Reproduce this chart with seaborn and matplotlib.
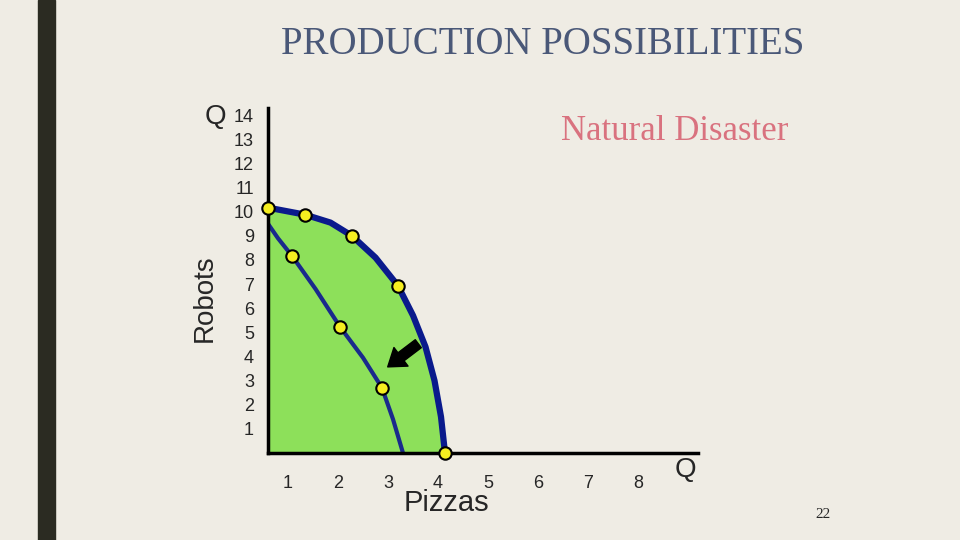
import matplotlib
matplotlib.use("Agg")
import matplotlib.pyplot as plt
import seaborn as sns
import pandas as pd

outer_x = [0.6, 1.34, 1.85, 2.28, 2.75, 3.2, 3.5, 3.75, 3.93, 4.06, 4.14]
outer_y = [10.17, 9.88, 9.55, 9.0, 8.1, 6.93, 5.7, 4.4, 3.0, 1.5, 0.0]
outer_mark = [True, True, False, True, False, True, False, False, False, False, True]
inner_x = [0.6, 0.8, 1.08, 1.55, 2.04, 2.5, 2.88, 3.1, 3.3]
inner_y = [9.5, 8.9, 8.17, 6.8, 5.23, 3.95, 2.7, 1.4, 0.0]
inner_mark = [False, False, True, False, True, False, True, False, False]
xticks = [1, 2, 3, 4, 5, 6, 7, 8]
yticks = list(range(1, 15))

sns.set_theme(style="white")
plt.rcParams['font.family'] = ['Liberation Sans', 'DejaVu Sans']
bg = "#efece4"
fig = plt.figure(figsize=(9.6, 5.4), dpi=100, facecolor=bg)
ax = fig.add_axes([268/960, 87/540, 430/960, 345/540])
ax.set_facecolor(bg)
ax.set_xlim(0.6, 9.2)
ax.set_ylim(0, 14.3)

ax.fill_between(outer_x, outer_y, 0, color="#8de05a", zorder=1)
od = pd.DataFrame({"x": outer_x, "y": outer_y})
idf = pd.DataFrame({"x": inner_x, "y": inner_y})
sns.lineplot(data=od, x="x", y="y", sort=False, color="#0a1a8c", lw=4.5, ax=ax, zorder=2)
sns.lineplot(data=idf, x="x", y="y", sort=False, color="#1a2a8c", lw=3, ax=ax, zorder=2)
mo = od[outer_mark]; mi = idf[inner_mark]
ax.scatter(mo.x, mo.y, s=80, color="#f5ee20", edgecolor="black", lw=1.5, zorder=4, clip_on=False)
ax.scatter(mi.x, mi.y, s=80, color="#f5ee20", edgecolor="black", lw=1.5, zorder=4, clip_on=False)

ax.annotate("", xy=(2.95, 3.5), xytext=(3.65, 4.6),
            arrowprops=dict(arrowstyle="simple,head_width=1.4,head_length=1.0,tail_width=0.6", color="black"))

for s in ["top", "right"]:
    ax.spines[s].set_visible(False)
for s in ["left", "bottom"]:
    ax.spines[s].set_color("black"); ax.spines[s].set_linewidth(2.5)
ax.set_xticks(xticks); ax.set_yticks(yticks)
ax.tick_params(axis="x", length=0, pad=16, labelsize=13)
ax.tick_params(axis="y", length=0, pad=10, labelsize=13)
ax.set_xlabel(""); ax.set_ylabel("")

fig.text(543/960, 1-44/540, "PRODUCTION POSSIBILITIES", ha="center", va="center",
         fontsize=28, family="Liberation Serif", color="#4a5878")
fig.text(675/960, 1-131/540, "Natural Disaster", ha="center", va="center",
         fontsize=25, family="Liberation Serif", color="#d9727f")
fig.text(215/960, 1-117/540, "Q", ha="center", va="center", fontsize=20)
fig.text(685/960, 1-470/540, "Q", ha="center", va="center", fontsize=20)
fig.text(205/960, 1-298/540, "Robots", ha="center", va="center", fontsize=20, rotation=90)
fig.text(446/960, 1-503/540, "Pizzas", ha="center", va="center", fontsize=21)
fig.text(823/960, 1-515/540, "22", ha="center", va="center", fontsize=11, family="Liberation Serif")
fig.add_artist(plt.Rectangle((38/960, 0), 17/960, 1, transform=fig.transFigure, color="#2b2b22"))
fig.savefig("out.png", dpi=100, facecolor=bg)
